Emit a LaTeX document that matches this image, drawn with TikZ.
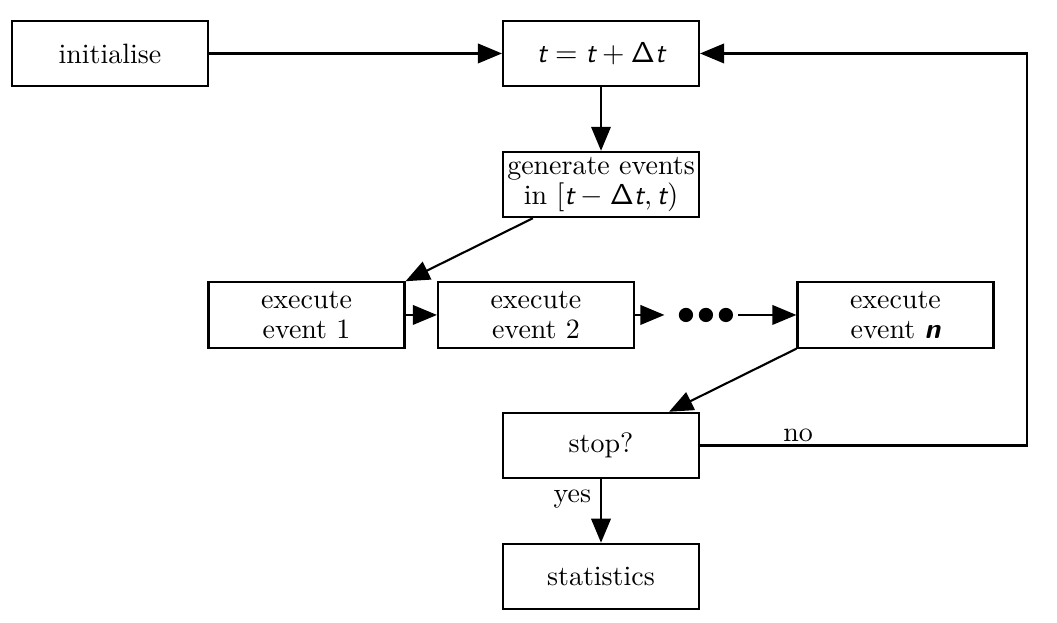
\documentclass[tikz,border=0pt]{standalone}
\usetikzlibrary{arrows.meta}

\newcommand{\tv}{\mbox{\sffamily\itshape t}}
\newcommand{\nv}{\mbox{\sffamily\bfseries\itshape n}}
\newcommand{\dt}{\mathsf{\Delta}\tv}

\begin{document}
\begin{tikzpicture}[
	font=\fontsize{10.6pt}{11.3pt}\selectfont,
	block/.style={draw, rectangle, line width=0.8pt, minimum width=26.1mm, minimum height=8.7mm, inner sep=1pt, align=center, fill=white},
	>={Triangle[length=3.2mm,width=2.6mm]}
	]
	
	\useasboundingbox (0,0) rectangle (14.075,-8.296);
	
	%-----------------------
	% Customizable heights
	%-----------------------
	\def\htop{-0.712}   % Row 1: init, time step
	\def\hgen{-2.457}   % Row 2: generate events
	\def\hexe{-4.194}   % Row 3: execute events
	\def\hstop{-5.932}  % Row 4: stop test
	\def\hstat{-7.676}  % Row 5: statistics
	
	%-----------------------
	% Row 1
	%-----------------------
	\node[block] (init) at (1.465,\htop) {initialise};
	\node[block] (step) at (8.003,\htop) {$\tv=\tv+\dt$};
	
	%-----------------------
	% Row 2
	%-----------------------
	\node[block] (gen) at (8.003,\hgen) {generate events\\in $[\tv-\dt,\tv)$};
	
	%-----------------------
	% Row 3
	%-----------------------
	\node[block] (ev1) at (4.081,\hexe) {execute\\event 1};
	\node[block] (ev2) at (7.137,\hexe) {execute\\event 2};
	\node[inner sep=0pt, minimum width=9.7mm, minimum height=3mm] (dots) at (9.34,\hexe) {};
	\fill (dots.center) ++(0.06,0) circle (2.7pt) ++(-0.266,0) circle (2.7pt) ++(0.532,0) circle (2.7pt);
	\node[block] (evn) at (11.924,\hexe) {execute\\event \nv};
	
	%-----------------------
	% Row 4 and 5
	%-----------------------
	\node[block] (stop) at (8.003,\hstop) {stop?};
	\node[block] (stat) at (8.003,\hstat) {statistics};
	\coordinate (turn1) at (13.675,\hstop);
	\coordinate (turn2) at (13.675,\htop);
	
	%-----------------------
	% Connections
	%-----------------------
	\tikzset{connect/.style={->, line width=0.8pt}}
	
	\draw[connect] (init.east) -- (step.west);
	\draw[connect] (step.south) -- (gen.north);
	\draw[connect] (gen) -- (ev1.north east);
	\draw[connect] (ev1.east) -- (ev2.west);
	\draw[connect] (ev2.east) -- (dots.west);
	\draw[connect] (dots.east) -- (evn.west);
	\draw[connect] (evn.south west) -- (stop);
	\draw[connect] (stop.south) -- node[left, pos=0.32] {yes} (stat.north);
	
	% loop back
	\draw[connect] (stop.east) -- node[above, pos=0.3, inner sep=1pt] {no} (turn1) -- (turn2) -- (step.east);
	
\end{tikzpicture}
\end{document}
